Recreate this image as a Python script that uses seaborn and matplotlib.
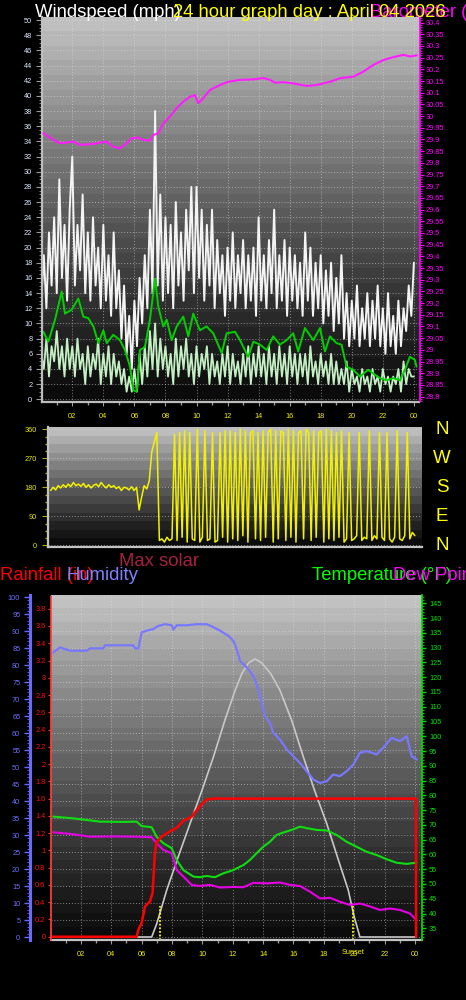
import numpy as np
import matplotlib
matplotlib.use('Agg')
import matplotlib.pyplot as plt
import seaborn as sns
from matplotlib.ticker import MultipleLocator, FixedLocator, FuncFormatter
from matplotlib.transforms import blended_transform_factory

# ---------------- data ----------------
hour_ticks = [2, 4, 6, 8, 10, 12, 14, 16, 18, 20, 22, 24]
hour_labels = ['02', '04', '06', '08', '10', '12', '14', '16', '18', '20', '22', '00']

t10 = np.arange(145) / 6.0  # 10-minute samples, hours

gust = [13, 19, 12, 22, 15, 24,
        14, 29, 16, 23, 13, 25,
        32, 15, 23, 17, 27, 14,
        22, 13, 24, 15, 20, 12,
        23, 13, 19, 11, 22, 12,
        17, 8, 15, 6, 11, 4,
        13, 7, 16, 10, 19, 12,
        25, 14, 38, 15, 27, 13,
        24, 14, 23, 12, 26, 15,
        22, 13, 25, 17, 28, 14,
        28, 16, 25, 13, 23, 15,
        25, 12, 21, 14, 19, 11,
        20, 13, 22, 12, 19, 14,
        21, 12, 19, 13, 20, 11,
        24, 13, 19, 12, 21, 14,
        25, 12, 19, 13, 21, 11,
        20, 13, 19, 12, 18, 11,
        22, 13, 20, 11, 18, 12,
        19, 10, 17, 11, 18, 9,
        16, 10, 19, 8, 14, 7,
        13, 8, 15, 7, 12, 8,
        14, 7, 13, 8, 15, 7,
        12, 6, 14, 7, 11, 6,
        13, 7, 12, 9, 15, 11,
        18]

avg_wind = [6, 4, 8, 3, 7, 5,
            9, 4, 7, 3, 8, 4,
            7, 3, 8, 4, 6, 2,
            7, 3, 6, 4, 8, 2,
            6, 3, 7, 2, 6, 3,
            5, 2, 4, 1, 3, 1,
            4, 1, 6, 2, 7, 3,
            9, 4, 10, 3, 8, 4,
            7, 3, 6, 2, 8, 3,
            7, 4, 8, 3, 6, 2,
            7, 3, 6, 4, 7, 2,
            6, 3, 5, 2, 6, 3,
            7, 2, 6, 3, 5, 2,
            6, 3, 7, 2, 6, 3,
            7, 3, 6, 2, 7, 3,
            6, 2, 7, 3, 6, 2,
            7, 3, 6, 2, 6, 3,
            6, 2, 7, 3, 5, 2,
            6, 3, 5, 2, 6, 2,
            5, 2, 4, 2, 5, 1,
            4, 2, 3, 1, 4, 2,
            3, 1, 4, 2, 3, 1,
            4, 2, 3, 1, 3, 2,
            4, 1, 5, 2, 4, 3,
            3]

smooth_h = [0.14, 0.46, 0.89, 1.32, 1.53, 1.96, 2.39, 2.71, 3.03, 3.36,
            3.68, 4.0, 4.22, 4.64, 5.07, 5.39, 5.72, 5.93, 6.15, 6.36,
            6.68, 7.0, 7.33, 7.54, 7.86, 8.08, 8.4, 8.72, 9.15, 9.47,
            9.79, 10.22, 10.65, 11.08, 11.62, 11.94, 12.48, 12.8, 13.33, 13.66,
            14.09, 14.52, 14.94, 15.37, 15.8, 16.23, 16.55, 16.98, 17.52, 17.95,
            18.27, 18.59, 19.02, 19.34, 19.66, 20.09, 20.52, 21.06, 21.38, 21.81,
            22.24, 22.67, 23.1, 23.42, 23.74, 24.06, 24.17]
smooth_wind = [8.9, 7.6, 10.5, 14.2, 11.3, 11.8, 13.3, 10.9, 10.7, 9.6,
               7.4, 9.1, 7.4, 8.5, 7.8, 6.5, 4.3, 1.2, 1.0, 6.5,
               6.9, 10.5, 15.9, 12.2, 9.6, 10.5, 7.8, 9.6, 10.9, 8.3,
               11.3, 9.1, 9.6, 8.7, 6.1, 8.7, 8.9, 7.8, 5.6, 7.6,
               7.2, 6.5, 8.3, 7.2, 7.8, 8.7, 6.3, 9.4, 7.8, 9.4,
               6.3, 8.3, 7.4, 7.2, 4.3, 3.9, 3.0, 3.9, 3.4, 2.8,
               2.5, 2.8, 2.5, 3.9, 5.6, 5.2, 4.3]

press_h = [0.14, 0.78, 1.21, 2.07, 2.5, 3.36, 3.79, 4.21, 4.64, 5.07,
           5.5, 5.83, 6.15, 6.58, 7.0, 7.22, 7.54, 7.86, 8.29, 8.72,
           9.15, 9.58, 9.9, 10.12, 10.44, 10.87, 11.51, 12.05, 12.8, 13.66,
           14.3, 14.73, 15.05, 15.59, 16.23, 17.09, 17.74, 18.6, 19.24, 20.1,
           20.74, 21.39, 22.03, 22.67, 23.32, 23.75, 24.18]
pressure = [29.927, 29.898, 29.884, 29.891, 29.877, 29.881, 29.887, 29.891, 29.869, 29.862,
            29.884, 29.905, 29.909, 29.898, 29.895, 29.919, 29.927, 29.969, 29.998, 30.034,
            30.062, 30.083, 30.09, 30.055, 30.077, 30.112, 30.133, 30.147, 30.155, 30.157,
            30.163, 30.155, 30.143, 30.145, 30.14, 30.129, 30.133, 30.147, 30.162, 30.169,
            30.19, 30.219, 30.24, 30.252, 30.262, 30.255, 30.26]

wind_dir = [170, 180, 172, 185, 178, 188,
            180, 190, 182, 195, 185, 190,
            183, 192, 180, 188, 178, 186,
            190, 182, 195, 185, 178, 188,
            180, 185, 176, 182, 170, 180,
            178, 172, 182, 170, 180, 110,
            150, 185, 175, 200, 290, 320,
            350, 15, 20, 10, 25, 15,
            20, 345, 15, 350, 25, 355,
            10, 350, 20, 15, 360, 10,
            25, 355, 15, 20, 350, 10,
            15, 350, 25, 355, 10, 355,
            20, 350, 15, 360, 30, 355,
            10, 350, 355, 20, 350, 15,
            355, 25, 350, 360, 10, 355,
            20, 355, 350, 15, 360, 25,
            355, 10, 350, 355, 20, 360,
            350, 15, 355, 25, 350, 355,
            10, 360, 20, 355, 15, 350,
            25, 355, 10, 20, 350, 15,
            20, 30, 350, 15, 25, 20,
            355, 15, 30, 20, 350, 25,
            15, 350, 20, 10, 25, 355,
            20, 15, 30, 350, 20, 40,
            30]
compass_letters = ['N', 'W', 'S', 'E', 'N']
compass_deg = [360, 270, 180, 90, 0]

hum_h = [0.18, 0.62, 1.28, 2.38, 2.6, 3.47, 3.58, 5.45, 5.56, 5.78,
         6.0, 6.33, 6.77, 7.1, 7.54, 7.98, 8.09, 8.31, 8.97, 9.62,
         10.28, 10.61, 11.16, 11.71, 12.04, 12.26, 12.48, 12.92, 13.36, 13.68,
         13.91, 14.12, 14.45, 14.67, 15.11, 15.55, 15.99, 16.43, 16.87, 17.31,
         17.75, 18.19, 18.62, 19.06, 19.51, 19.94, 20.38, 20.82, 21.48, 21.92,
         22.47, 23.02, 23.46, 23.79, 24.12]
humidity = [83.7, 85.2, 84.2, 84.2, 84.9, 84.9, 85.8, 85.8, 84.9, 84.9,
            89.6, 90.1, 90.6, 91.5, 92.0, 91.7, 90.4, 91.7, 91.7, 92.0,
            92.0, 91.4, 90.1, 88.6, 87.1, 84.7, 81.2, 79.3, 76.8, 72.9,
            68.9, 65.0, 63.0, 60.1, 58.1, 55.2, 53.2, 51.2, 48.8, 46.3,
            45.3, 45.8, 47.8, 47.3, 48.8, 50.7, 54.2, 54.7, 53.7, 55.7,
            58.6, 57.6, 59.1, 53.2, 52.2]

temp_h = [0.18, 1.5, 3.25, 4.79, 5.67, 6.0, 6.66, 6.98, 7.43, 7.98,
          8.31, 8.75, 9.41, 9.84, 10.28, 10.83, 11.38, 12.04, 12.7, 13.13,
          13.57, 14.01, 14.45, 14.89, 15.33, 15.99, 16.43, 16.87, 17.53, 18.19,
          18.84, 19.5, 20.16, 20.82, 21.48, 22.13, 22.79, 23.45, 24.11]
temperature = [72.8, 72.2, 71.1, 71.0, 71.1, 69.6, 69.2, 66.0, 63.8, 62.1,
               58.1, 54.7, 52.5, 52.3, 52.7, 52.3, 53.6, 54.7, 56.4, 58.1,
               60.4, 62.6, 64.3, 66.6, 67.4, 68.5, 69.4, 68.9, 68.3, 68.1,
               66.6, 64.3, 62.6, 60.9, 59.8, 58.4, 57.2, 56.8, 57.2]

dew_h = [0.18, 1.5, 2.6, 4.14, 5.67, 6.66, 6.98, 7.43, 7.98, 8.31,
         8.75, 9.29, 9.84, 10.5, 11.16, 12.04, 12.7, 13.36, 14.23, 15.11,
         15.77, 16.43, 17.09, 17.75, 18.41, 19.06, 19.72, 20.38, 21.04, 21.7,
         22.36, 23.02, 23.68, 24.11]
dew_point = [67.5, 66.8, 66.0, 66.1, 66.0, 65.8, 63.8, 61.5, 60.4, 54.7,
             52.5, 49.7, 49.3, 49.7, 48.8, 49.0, 48.9, 50.4, 50.2, 50.5,
             49.7, 49.3, 47.4, 45.1, 45.3, 44.0, 42.9, 43.4, 42.4, 41.2,
             41.7, 41.2, 40.0, 37.7]

rain_h = [0.03, 5.67, 5.78, 6.0, 6.22, 6.55, 6.72, 6.87, 6.98, 7.31,
          7.86, 8.3, 8.74, 9.29, 9.83, 10.27, 10.7, 24.07, 24.08]
rain = [0, 0, 0.08, 0.16, 0.35, 0.41, 0.51, 0.97, 1.09, 1.16,
        1.22, 1.26, 1.34, 1.39, 1.51, 1.59, 1.60, 1.60, 0.0]

solar_h = [0.03, 6.66, 7.0, 7.65, 8.4, 9.19, 10.0, 10.73, 11.5, 12.16,
           12.6, 13.04, 13.47, 13.91, 14.5, 15.11, 15.9, 16.65, 17.4, 18.19,
           18.9, 19.61, 20.0, 20.38, 24.1]
max_solar = [0, 0, 4, 13.8, 23.5, 33.4, 43.5, 53, 64, 72.6,
             77.5, 80.6, 81.8, 80.6, 77.5, 72.6, 63.5, 53, 43, 33.4,
             23.5, 13.8, 6, 0, 0]

sun_events = [7.2, 19.92]

# ---------------- style ----------------
sns.set_theme(style='dark')
plt.rcParams['font.family'] = ['Liberation Sans', 'DejaVu Sans']
plt.rcParams['axes.unicode_minus'] = False

W, H = 466, 1000
fig = plt.figure(figsize=(W / 100, H / 100), dpi=100, facecolor='black')


def rect(l, t, r, b):
    return [l / W, 1 - b / H, (r - l) / W, (b - t) / H]


def add_background(rc, top=196, bottom=10, n=26):
    bg = fig.add_axes(rc, zorder=-5)
    t = (np.arange(n) + 0.5) / n
    v = (bottom + (top - bottom) * (1 - t) ** 1.15) / 255.0
    img = np.repeat(v[:, None], 3, axis=1)[:, None, :]
    bg.imshow(img, aspect='auto', extent=(0, 1, 0, 1), interpolation='nearest')
    bg.set_axis_off()


def hide_spines(ax, keep=()):
    for k, s in ax.spines.items():
        s.set_visible(k in keep)


grid_kw = dict(color='#e0e0e0', linestyle=(0, (1, 2)), linewidth=0.7, alpha=0.55)
TICK_FS = 5.3
YEL = '#f0f000'

# ---------------- panel 1: wind + pressure ----------------
r1 = rect(42, 17, 419.5, 401.5)
add_background(r1)
ax1 = fig.add_axes(r1)
ax1.patch.set_alpha(0)
sns.lineplot(x=t10, y=gust, ax=ax1, color='#f4f4f4', linewidth=1.4, estimator=None, sort=False)
sns.lineplot(x=t10, y=avg_wind, ax=ax1, color='#c4f0c4', linewidth=1.3, estimator=None, sort=False)
sns.lineplot(x=smooth_h, y=smooth_wind, ax=ax1, color='#00d000', linewidth=1.4, estimator=None, sort=False)
ax1.set_xlim(0.05, 24.36)
ax1.set_ylim(-0.29, 50.4)
ax1.yaxis.set_major_locator(MultipleLocator(2))
ax1.yaxis.set_minor_locator(MultipleLocator(0.5))
ax1.xaxis.set_major_locator(FixedLocator(hour_ticks))
ax1.xaxis.set_minor_locator(MultipleLocator(1))
ax1.set_xticklabels(hour_labels)
ax1.grid(True, which='major', **grid_kw)
ax1.tick_params(axis='y', which='major', colors='#9a9a9a', labelcolor='#dde8ff',
                labelsize=TICK_FS, length=4, width=0.8, pad=3, left=True)
ax1.tick_params(axis='y', which='minor', colors='#9a9a9a', length=2, width=0.6, left=True)
ax1.tick_params(axis='x', which='major', colors='#9a9a9a', labelcolor=YEL,
                labelsize=TICK_FS, length=3, width=0.8, pad=5, bottom=True)
ax1.tick_params(axis='x', which='minor', colors='#9a9a9a', length=2, bottom=True)
ax1.set_xlabel('')
ax1.set_ylabel('')
hide_spines(ax1, ('left', 'bottom'))
for s in ('left', 'bottom'):
    ax1.spines[s].set_color('#bdbdbd')
    ax1.spines[s].set_linewidth(1.6)

axp = ax1.twinx()
sns.lineplot(x=press_h, y=pressure, ax=axp, color='#ff1cff', linewidth=1.5, estimator=None, sort=False)
axp.set_ylim(28.779, 30.424)
axp.yaxis.set_major_locator(MultipleLocator(0.05))
axp.yaxis.set_minor_locator(MultipleLocator(0.01))
axp.yaxis.set_major_formatter(FuncFormatter(lambda v, p: f'{round(v, 2):g}'))
axp.tick_params(axis='y', which='major', colors='#ff00ff', labelcolor='#ff00ff',
                labelsize=TICK_FS, length=3, width=0.8, pad=1.5, right=True)
axp.tick_params(axis='y', which='minor', colors='#ff00ff', length=1.5, width=0.6, right=True)
axp.set_ylabel('')
hide_spines(axp, ('right',))
axp.spines['right'].set_color('#ff00ff')
axp.spines['right'].set_linestyle((0, (2, 1)))

# titles (top)
fig.text(35 / W, 1 - 17 / H, 'Windspeed (mph)', color='white', fontsize=13.3, va='baseline')
fig.text(370 / W, 1 - 17 / H, 'Barometer (in)', color='#ff00ff', fontsize=13.3, va='baseline')
fig.text(173 / W, 1 - 17 / H, '24 hour graph day : April 04 2026', color='#ffff00',
         fontsize=13.3, va='baseline')

# ---------------- panel 2: wind direction ----------------
r2 = rect(48.3, 427.3, 421.7, 546.7)
add_background(r2, top=196, bottom=8, n=14)
ax2 = fig.add_axes(r2)
ax2.patch.set_alpha(0)
sns.lineplot(x=t10, y=wind_dir, ax=ax2, color='#f2f200', linewidth=1.1, estimator=None, sort=False)
ax2.set_xlim(-0.15, 24.45)
ax2.set_ylim(-4.3, 366.2)
ax2.yaxis.set_major_locator(FixedLocator([0, 90, 180, 270, 360]))
ax2.yaxis.set_minor_locator(MultipleLocator(22.5))
ax2.set_xticks([])
ax2.grid(True, which='major', axis='y', **grid_kw)
ax2.tick_params(axis='y', which='major', colors='#b0b000', labelcolor='#e8e800',
                labelsize=TICK_FS, length=4, width=0.8, pad=4, left=True)
ax2.tick_params(axis='y', which='minor', colors='#b0b000', length=2, left=True)
ax2.set_xlabel('')
ax2.set_ylabel('')
hide_spines(ax2, ('left', 'bottom'))
for s in ('left', 'bottom'):
    ax2.spines[s].set_color('#c4c4c4')
    ax2.spines[s].set_linewidth(1.6)
trans = blended_transform_factory(fig.transFigure, ax2.transData)
for letter, deg in zip(compass_letters, compass_deg):
    ax2.text(442 / W, deg, letter, transform=trans, color='#ffff00', fontsize=13.5,
             ha='center', va='center', clip_on=False)

# headings between panels
fig.text(119 / W, 1 - 566 / H, 'Max solar', color='#a6203e', fontsize=13.3, va='baseline')
fig.text(0 / W, 1 - 580 / H, 'Rainfall (in)', color='#ff0000', fontsize=13.3, va='baseline')
fig.text(67 / W, 1 - 580 / H, 'Humidity', color='#8080ff', fontsize=13.3, va='baseline')
fig.text(312 / W, 1 - 580 / H, 'Temperature (°F)', color='#00ff00', fontsize=13.3, va='baseline')
fig.text(393 / W, 1 - 580 / H, 'Dew Point (°F)', color='#ff00ff', fontsize=13.3, va='baseline')

# ---------------- panel 3: humidity / rain / temperature ----------------
r3 = rect(51, 595, 422, 940)
add_background(r3, top=198, bottom=10)
ax3 = fig.add_axes(r3)
ax3.patch.set_alpha(0)
sns.lineplot(x=solar_h, y=max_solar, ax=ax3, color='#c8c8c8', linewidth=1.2, estimator=None, sort=False)
sns.lineplot(x=hum_h, y=humidity, ax=ax3, color='#7878ff', linewidth=1.6, estimator=None, sort=False)
ax3.set_xlim(0.026, 24.47)
ax3.set_ylim(-0.88, 100.6)
ax3.yaxis.set_major_locator(MultipleLocator(5))
ax3.yaxis.set_minor_locator(MultipleLocator(1))
ax3.xaxis.set_major_locator(FixedLocator(hour_ticks))
ax3.xaxis.set_minor_locator(MultipleLocator(1))
ax3.set_xticklabels(hour_labels)
ax3.grid(True, which='major', **grid_kw)
ax3.tick_params(axis='y', which='major', colors='#6a6aff', labelcolor='#6f6fff',
                labelsize=TICK_FS, length=4, width=1, pad=3, left=True)
ax3.tick_params(axis='y', which='minor', colors='#6a6aff', length=2, width=0.6, left=True)
ax3.tick_params(axis='x', which='major', colors='#9a9a9a', labelcolor=YEL,
                labelsize=TICK_FS, length=3, width=0.8, pad=5, bottom=True)
ax3.tick_params(axis='x', which='minor', colors='#9a9a9a', length=2, bottom=True)
ax3.set_xlabel('')
ax3.set_ylabel('')
hide_spines(ax3, ('left', 'bottom'))
ax3.spines['left'].set_position(('axes', -21 / 371))
ax3.spines['left'].set_color('#6a6aff')
ax3.spines['left'].set_linewidth(2.2)
ax3.spines['bottom'].set_color('#c4c4c4')
ax3.spines['bottom'].set_linewidth(1.6)
for x in sun_events:
    ax3.axvline(x, ymin=0, ymax=0.10, color='#ffff00', linestyle=(0, (1, 1)), linewidth=1.3)
ax3.text(sun_events[1], 1 - 952 / H, 'Sunset',
         transform=blended_transform_factory(ax3.transData, fig.transFigure), color=YEL,
         fontsize=TICK_FS, ha='center', va='center', clip_on=False)

axt = ax3.twinx()
sns.lineplot(x=temp_h, y=temperature, ax=axt, color='#10dd10', linewidth=1.5, estimator=None, sort=False)
sns.lineplot(x=dew_h, y=dew_point, ax=axt, color='#e600e6', linewidth=1.5, estimator=None, sort=False)
axt.set_ylim(31.04, 147.8)
axt.yaxis.set_major_locator(MultipleLocator(5))
axt.yaxis.set_minor_locator(MultipleLocator(1))
axt.tick_params(axis='y', which='major', colors='#00dd00', labelcolor='#00e000',
                labelsize=TICK_FS, length=3, width=1, pad=2, right=True)
axt.tick_params(axis='y', which='minor', colors='#00dd00', length=1.5, width=0.6, right=True)
axt.set_ylabel('')
hide_spines(axt, ('right',))
axt.spines['right'].set_color('#00dd00')
axt.spines['right'].set_linestyle((0, (2, 1)))

axr = ax3.twinx()
sns.lineplot(x=rain_h, y=rain, ax=axr, color='#ff0000', linewidth=1.8, estimator=None, sort=False)
axr.set_ylim(-0.038, 3.959)
axr.yaxis.tick_left()
axr.yaxis.set_major_locator(MultipleLocator(0.2))
axr.yaxis.set_minor_locator(MultipleLocator(0.05))
axr.yaxis.set_major_formatter(FuncFormatter(lambda v, p: f'{round(v, 1):g}'))
axr.tick_params(axis='y', which='major', colors='#ff3030', labelcolor='#ff1010',
                labelsize=TICK_FS, length=2, width=0.8, pad=2, left=True, right=False)
axr.tick_params(axis='y', which='minor', colors='#ff3030', length=1, left=True, right=False)
axr.set_ylabel('')
hide_spines(axr, ('left',))
axr.spines['left'].set_position(('axes', 0))
axr.spines['left'].set_color('#ff4040')
axr.spines['left'].set_linestyle((0, (2, 1)))
axr.spines['left'].set_linewidth(1.2)

fig.savefig('out.png', dpi=100, facecolor='black')
